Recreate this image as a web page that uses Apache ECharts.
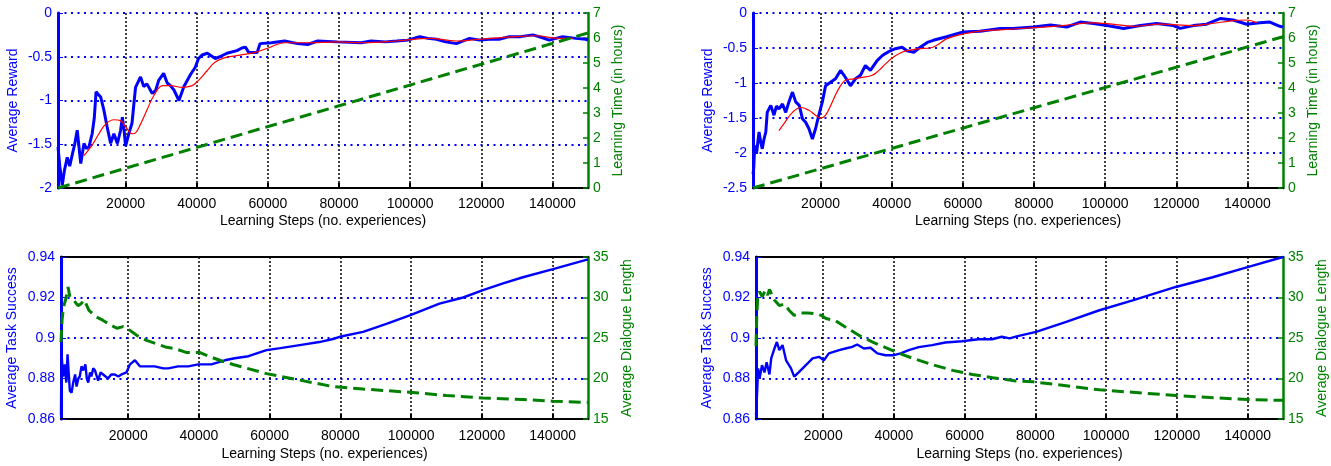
<!DOCTYPE html>
<html><head><meta charset="utf-8">
<script src="https://cdn.jsdelivr.net/npm/echarts@6/dist/echarts.min.js"></script>
<style>html,body{margin:0;padding:0;background:#fff}#c{width:1331px;height:466px}</style>
</head><body><div id="c"></div>
<script>
// ---------- tick labels ----------
const xTicks = [20000, 40000, 60000, 80000, 100000, 120000, 140000];
const xName = 'Learning Steps (no. experiences)';

// ---------- top-left panel ----------
const tlSteps = [1000,1500,2200,2800,3600,4300,5000,5700,6400,7400,8300,9000,9700,10600,11200,11700,12300,13000,13900,14800,15800,16700,17700,18600,19100,19600,20000,20900,21800,22800,24200,25100,26000,27500,28500,29300,30700,31700,32600,33600,35000,36400,38300,39600,40500,41500,43000,45200,46500,48500,51300,52700,53700,54600,57000,57800,61000,64700,68400,71200,74000,79600,86200,89000,93000,96200,99300,102700,105000,107400,110000,113000,116700,119500,122300,125000,127900,131000,134500,137000,139100,142900,146600,149400,150000];
const tlReward = [-1.53,-1.75,-1.97,-1.80,-1.65,-1.75,-1.62,-1.50,-1.34,-1.72,-1.49,-1.55,-1.53,-1.38,-1.20,-0.90,-0.93,-0.96,-1.11,-1.30,-1.49,-1.38,-1.49,-1.34,-1.19,-1.35,-1.52,-1.38,-1.26,-0.85,-0.73,-0.84,-0.81,-0.92,-0.88,-0.77,-0.69,-0.80,-0.83,-0.88,-1.00,-0.84,-0.70,-0.62,-0.52,-0.48,-0.46,-0.52,-0.50,-0.46,-0.43,-0.40,-0.39,-0.45,-0.45,-0.35,-0.34,-0.32,-0.35,-0.36,-0.32,-0.33,-0.34,-0.32,-0.33,-0.32,-0.31,-0.27,-0.29,-0.30,-0.33,-0.35,-0.29,-0.31,-0.30,-0.30,-0.27,-0.27,-0.25,-0.28,-0.31,-0.27,-0.29,-0.30,-0.31];
const tlSmoothSteps = [8300,10600,12500,14400,16700,18600,20000,21900,22800,24200,26100,28000,30400,32600,35900,38700,40500,42900,45200,48000,50800,56400,60100,64700,71200,79600,86800,96200,105500,113000,119500,129800,135400,141900,145700];
const tlSmooth = [-1.63,-1.51,-1.38,-1.27,-1.22,-1.23,-1.30,-1.38,-1.37,-1.27,-1.10,-0.94,-0.83,-0.83,-0.85,-0.83,-0.77,-0.66,-0.56,-0.51,-0.49,-0.45,-0.40,-0.34,-0.34,-0.33,-0.34,-0.32,-0.29,-0.32,-0.30,-0.27,-0.26,-0.29,-0.29];
const tlTimeSteps = [1000, 150000];
const tlTime = [0.0, 6.2];

// ---------- top-right panel ----------
const trSteps = [1000,1200,1500,2000,2700,3200,3600,4100,4600,5000,6000,6900,7600,8300,9300,10200,11100,12100,13000,14000,14900,15800,16700,17700,18600,19500,20500,21400,22800,24200,25600,26600,28400,29800,31200,32600,34000,35900,37300,38200,39600,41000,42900,44300,46200,48000,50000,51700,55400,60100,64800,70500,74100,79900,84600,89200,93000,96700,100500,105200,109900,114500,119200,121100,124800,128500,132300,136000,139800,143500,146300,149100,150000];
const trReward = [-2.30,-2.22,-1.89,-2.00,-1.70,-1.85,-1.94,-1.80,-1.70,-1.42,-1.32,-1.46,-1.33,-1.37,-1.30,-1.42,-1.27,-1.13,-1.27,-1.32,-1.51,-1.56,-1.65,-1.80,-1.65,-1.46,-1.27,-1.04,-0.99,-0.94,-0.82,-0.89,-1.04,-0.94,-0.89,-0.75,-0.82,-0.68,-0.61,-0.58,-0.54,-0.51,-0.49,-0.54,-0.56,-0.49,-0.42,-0.39,-0.34,-0.27,-0.26,-0.22,-0.22,-0.20,-0.17,-0.20,-0.13,-0.15,-0.18,-0.22,-0.18,-0.15,-0.18,-0.22,-0.18,-0.16,-0.08,-0.10,-0.16,-0.14,-0.13,-0.19,-0.20];
const trSmoothSteps = [8300,9700,12100,14400,16700,18600,20000,21400,23300,25100,27000,29400,31700,34500,36400,38200,40500,42900,45200,48000,50800,53000,55400,60100,64800,70500,79900,88000,96700,102000,108000,115500,124800,130000,136000,139800,142600];
const trSmooth = [-1.68,-1.58,-1.42,-1.35,-1.39,-1.46,-1.50,-1.46,-1.27,-1.08,-0.96,-0.94,-0.92,-0.89,-0.82,-0.73,-0.63,-0.56,-0.53,-0.51,-0.50,-0.45,-0.37,-0.30,-0.26,-0.24,-0.21,-0.18,-0.14,-0.16,-0.19,-0.16,-0.18,-0.15,-0.11,-0.10,-0.14];
const trTimeSteps = [1000, 150000];
const trTime = [0.0, 6.05];

// ---------- bottom-left panel ----------
const blSteps = [1000,1100,1200,1600,2100,2500,2850,3200,3500,4000,4450,5000,5400,5900,6300,6800,7300,7900,8300,8700,9200,9600,10100,10600,11500,12200,12900,14300,15200,16200,17200,18100,19500,20500,21900,23300,25200,27500,29900,31300,34100,37000,39800,43500,47300,50100,54000,59100,63000,68500,74000,77900,79800,86400,93000,99600,108000,114700,120300,126000,131600,140100,150000];
const blSuccess = [0.862,0.890,0.891,0.881,0.887,0.878,0.892,0.882,0.874,0.873,0.878,0.882,0.876,0.880,0.881,0.886,0.884,0.887,0.880,0.878,0.883,0.881,0.885,0.884,0.879,0.883,0.882,0.880,0.882,0.882,0.881,0.882,0.883,0.887,0.889,0.886,0.886,0.886,0.885,0.885,0.886,0.886,0.887,0.887,0.889,0.890,0.891,0.894,0.895,0.8965,0.898,0.8995,0.9006,0.903,0.907,0.9112,0.917,0.920,0.9236,0.927,0.930,0.934,0.9388];
const blLenSteps = [1000,1300,1700,2300,3000,3500,4500,5800,6600,7600,8900,11000,12800,15000,16800,18600,20300,22500,25200,27900,30500,33100,36600,40300,43100,46800,49900,59100,68500,77900,86400,99600,110000,120300,131600,140100,150000];
const blLength = [24.5,27.2,28.8,29.7,31.3,30.1,29.7,29.0,29.2,29.7,28.4,27.6,27.2,26.6,26.2,26.4,26.0,25.3,24.7,24.3,23.9,23.7,23.2,23.2,22.7,22.1,21.7,20.6,19.8,19.0,18.7,18.3,17.9,17.6,17.4,17.2,17.05];

// ---------- bottom-right panel ----------
const brSteps = [1000,1200,1600,2000,2700,3400,4000,4800,5300,6200,6900,7600,8500,9500,10900,11800,13200,15100,17000,18800,20200,21600,24500,26300,28200,29600,31500,33400,35300,37600,40000,41900,44200,47000,50800,54500,59200,63900,67700,70500,72700,74700,80200,88700,98100,107500,119700,130100,140000,150000];
const brSuccess = [0.862,0.8686,0.885,0.880,0.8866,0.883,0.888,0.882,0.8899,0.8948,0.898,0.894,0.8965,0.889,0.885,0.8809,0.8833,0.8866,0.8899,0.8907,0.889,0.8924,0.894,0.8948,0.8956,0.8968,0.8948,0.8952,0.8924,0.8915,0.8915,0.8924,0.894,0.8955,0.8965,0.8978,0.8984,0.8994,0.8994,0.9006,0.8998,0.9008,0.903,0.908,0.9137,0.9186,0.9252,0.930,0.935,0.940];
const brLenSteps = [1000,1200,1500,2000,2800,3600,4300,4800,6200,7600,9000,10400,11800,13700,15600,17500,19400,20800,23600,26500,30200,34000,37700,41500,45300,50900,56600,62200,67900,74500,79300,98100,119700,140000,150000];
const brLength = [24.0,27.4,30.3,30.7,30.1,30.9,30.3,31.0,29.7,29.0,29.2,28.4,27.8,28.1,28.1,28.0,27.8,27.4,27.1,26.3,25.3,24.5,23.8,23.1,22.5,21.7,21.0,20.5,20.1,19.7,19.6,18.6,17.9,17.4,17.3];

// ---------- build ----------
const FONT = 'Liberation Sans, Arial, Helvetica, sans-serif';
const FS = 14;
const BLUE = '#0000ff', GREEN = '#008000', RED = '#ff0000';
const zip = (xs, ys) => xs.map((x, i) => [x, ys[i]]);

const grids = [
  {left: 58, right: 743, top: 13, bottom: 278},
  {left: 753, right: 48, top: 13, bottom: 278},
  {left: 61, right: 743, top: 257, bottom: 47},
  {left: 756, right: 48, top: 257, bottom: 47}
];
const panels = [
  {l: {min: -2, max: 0, interval: 0.5, name: 'Average Reward', gap: 38},
   r: {min: 0, max: 7, interval: 1, name: 'Learning Time (in hours)', gap: 23},
   bottomRow: false},
  {l: {min: -2.5, max: 0, interval: 0.5, name: 'Average Reward', gap: 38},
   r: {min: 0, max: 7, interval: 1, name: 'Learning Time (in hours)', gap: 23},
   bottomRow: false},
  {l: {min: 0.86, max: 0.94, interval: 0.02, name: 'Average Task Success', gap: 42},
   r: {min: 15, max: 35, interval: 5, name: 'Average Dialogue Length', gap: 32},
   bottomRow: true},
  {l: {min: 0.86, max: 0.94, interval: 0.02, name: 'Average Task Success', gap: 42},
   r: {min: 15, max: 35, interval: 5, name: 'Average Dialogue Length', gap: 32},
   bottomRow: true}
];

const xAxes = [], yAxes = [], series = [];
panels.forEach((p, i) => {
  xAxes.push({
    type: 'value', gridIndex: i, min: 1000, max: 150000, position: 'bottom',
    axisLine: {show: true, onZero: false, lineStyle: {color: '#000', width: 2}},
    axisTick: {show: true, inside: true, length: 5, customValues: xTicks, lineStyle: {color: '#000', width: 2}},
    axisLabel: {customValues: xTicks, formatter: v => String(v), color: '#000', fontSize: FS, fontFamily: FONT, margin: p.bottomRow ? 10 : 9},
    splitLine: {show: true, lineStyle: {color: '#000', type: [2, 2], width: 1.5}},
    name: xName, nameLocation: 'middle', nameGap: p.bottomRow ? 28 : 26,
    nameTextStyle: {color: '#000', fontSize: FS, fontFamily: FONT}
  });
  yAxes.push({
    type: 'value', gridIndex: i, position: 'left', min: p.l.min, max: p.l.max, interval: p.l.interval,
    axisLine: {show: true, onZero: false, lineStyle: {color: BLUE, width: 3}},
    axisTick: {show: true, inside: true, length: 5, lineStyle: {color: BLUE}},
    axisLabel: {color: BLUE, fontSize: FS, fontFamily: FONT, margin: 6},
    splitLine: {show: true, lineStyle: {color: BLUE, type: [2, 4.5], width: 1.8}},
    name: p.l.name, nameLocation: 'middle', nameRotate: 90, nameGap: p.l.gap,
    nameTextStyle: {color: BLUE, fontSize: FS, fontFamily: FONT}
  });
  yAxes.push({
    type: 'value', gridIndex: i, position: 'right', min: p.r.min, max: p.r.max, interval: p.r.interval,
    axisLine: {show: true, onZero: false, lineStyle: {color: GREEN, width: 2.5}},
    axisTick: {show: true, inside: true, length: 5, lineStyle: {color: GREEN, width: 1.5}},
    axisLabel: {color: GREEN, fontSize: FS, fontFamily: FONT, margin: 5},
    splitLine: {show: false},
    name: p.r.name, nameLocation: 'middle', nameRotate: 90, nameGap: p.r.gap,
    nameTextStyle: {color: GREEN, fontSize: FS, fontFamily: FONT}
  });
});
// top border lines for bottom row
[2, 3].forEach(i => {
  xAxes.push({
    type: 'value', gridIndex: i, min: 1000, max: 150000, position: 'top',
    axisLine: {show: true, onZero: false, lineStyle: {color: '#000', width: 2}},
    axisTick: {show: false}, axisLabel: {show: false}, splitLine: {show: false}
  });
});

function blueLine(i, xs, ys, w) {
  series.push({type: 'line', xAxisIndex: i, yAxisIndex: 2 * i, data: zip(xs, ys), showSymbol: false,
    lineStyle: {color: BLUE, width: w}, z: 3, silent: true});
}
function redLine(i, xs, ys) {
  series.push({type: 'line', xAxisIndex: i, yAxisIndex: 2 * i, data: zip(xs, ys), showSymbol: false,
    smooth: 0.4, lineStyle: {color: RED, width: 1.2}, z: 4, silent: true});
}
function greenLine(i, xs, ys) {
  series.push({type: 'line', xAxisIndex: i, yAxisIndex: 2 * i + 1, data: zip(xs, ys), showSymbol: false,
    lineStyle: {color: GREEN, width: 3, type: [12, 6]}, z: 5, silent: true});
}

blueLine(0, tlSteps, tlReward, 3); redLine(0, tlSmoothSteps, tlSmooth); greenLine(0, tlTimeSteps, tlTime);
blueLine(1, trSteps, trReward, 3); redLine(1, trSmoothSteps, trSmooth); greenLine(1, trTimeSteps, trTime);
blueLine(2, blSteps, blSuccess, 2.4); greenLine(2, blLenSteps, blLength);
blueLine(3, brSteps, brSuccess, 2.4); greenLine(3, brLenSteps, brLength);

const chart = echarts.init(document.getElementById('c'), null, {renderer: 'canvas'});
chart.setOption({
  animation: false,
  backgroundColor: '#fff',
  grid: grids,
  xAxis: xAxes,
  yAxis: yAxes,
  series: series
});
</script></body></html>
